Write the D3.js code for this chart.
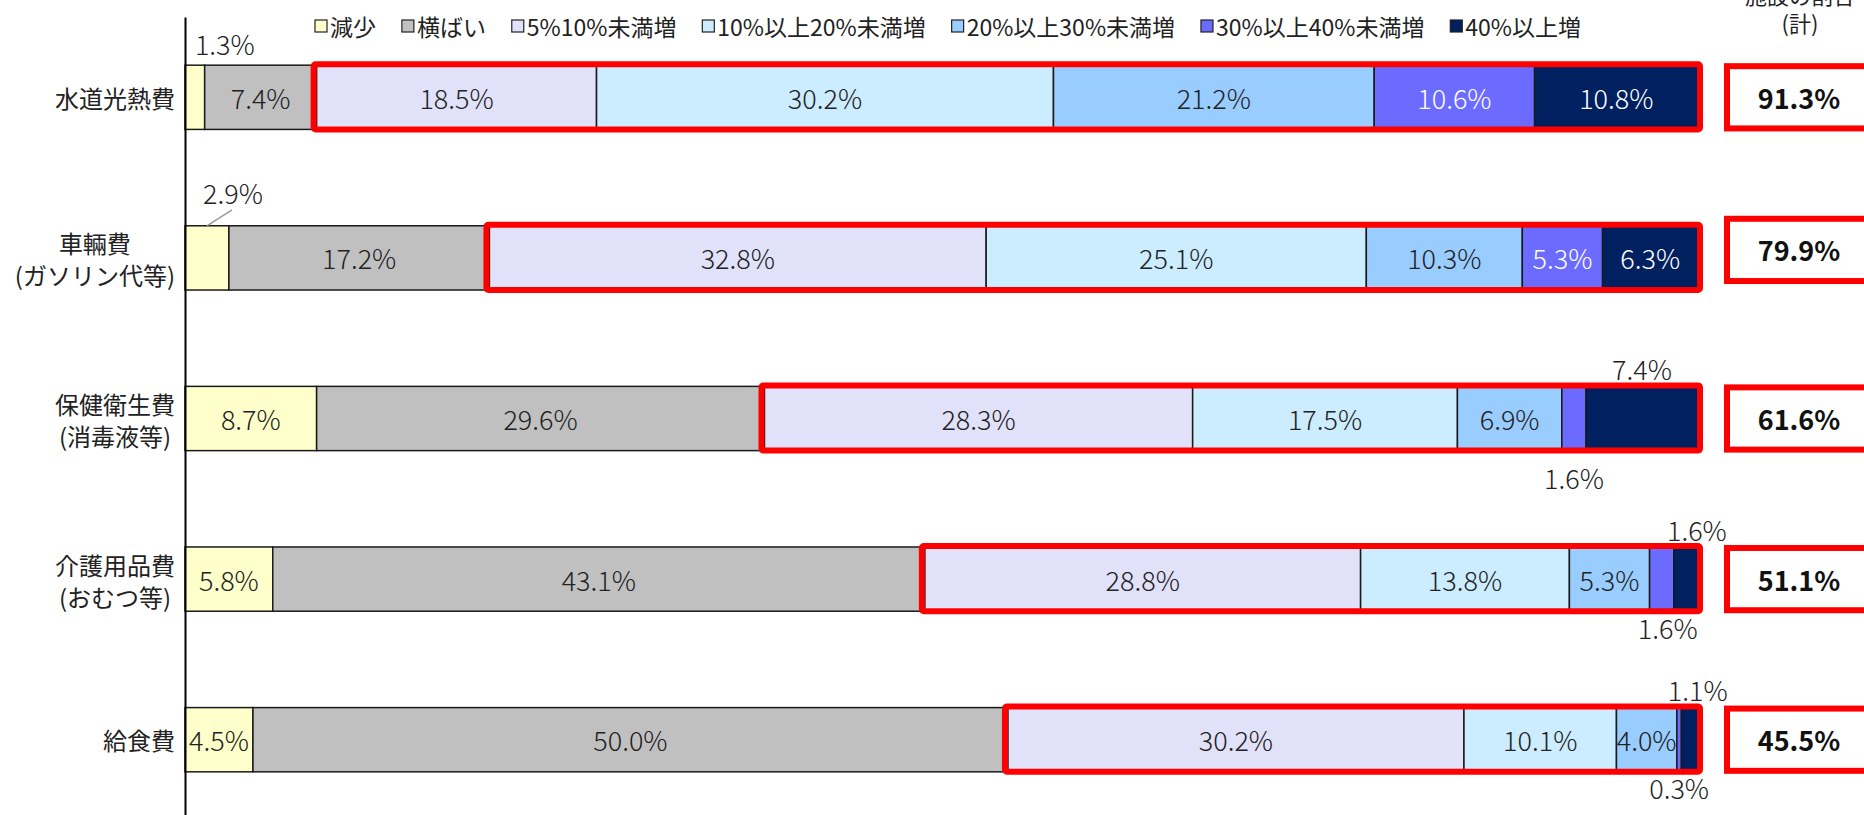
<!DOCTYPE html>
<html>
<head>
<meta charset="utf-8">
<script src="https://cdn.jsdelivr.net/npm/d3@7.9.0/dist/d3.min.js"></script>
<style>
  body { margin: 0; background: #fff; }
  svg { display: block; font-family: "Noto Sans CJK JP", "Noto Sans", sans-serif; }
</style>
</head>
<body>
<svg id="chart" width="1864" height="815"></svg>
<script>
// --- data ---
const categories = ['水道光熱費', '車輛費', '保健衛生費', '介護用品費', '給食費'];
const categorySub = ['', '(ガソリン代等)', '(消毒液等)', '(おむつ等)', ''];
const seriesNames = ['減少', '横ばい', '5%10%未満増', '10%以上20%未満増', '20%以上30%未満増', '30%以上40%未満増', '40%以上増'];

const decrease = [1.3, 2.9, 8.7, 5.8, 4.5];
const flat     = [7.4, 17.2, 29.6, 43.1, 50.0];
const up5to10  = [18.5, 32.8, 28.3, 28.8, 30.2];
const up10to20 = [30.2, 25.1, 17.5, 13.8, 10.1];
const up20to30 = [21.2, 10.3, 6.9, 5.3, 4.0];
const up30to40 = [10.6, 5.3, 1.6, 1.6, 0.3];
const up40plus = [10.8, 6.3, 7.4, 1.6, 1.1];
const increaseTotal = [91.3, 79.9, 61.6, 51.1, 45.5];

const seriesValues = [decrease, flat, up5to10, up10to20, up20to30, up30to40, up40plus];
const colors = ['#FFFFCC', '#C0C0C0', '#E1E1FA', '#CCECFF', '#99CCFF', '#6B6BFF', '#002060'];

// labels that sit outside their (too narrow) segment
const outsideLabels = [
  { row: 0, key: '減少', dx: 30, dy: -22 },
  { row: 1, key: '減少', dx: 26, dy: -33, leader: true },
  { row: 2, key: '40%以上増', dx: 0, dy: -18 },
  { row: 2, key: '30%以上40%未満増', dx: 0, dy: 27 },
  { row: 3, key: '40%以上増', dx: 11, dy: -17 },
  { row: 3, key: '30%以上40%未満増', dx: 6, dy: 16 },
  { row: 4, key: '40%以上増', dx: 8, dy: -18 },
  { row: 4, key: '30%以上40%未満増', dx: 0, dy: 16 }
];
// the second total box sits a little higher in the original
const totalBoxShift = [0, -8, 0, 0, 0];

// table for d3.stack
let rows = categories.map((c, i) => {
  let r = { category: c };
  seriesNames.forEach((s, j) => r[s] = seriesValues[j][i]);
  return r;
});

const svg = d3.select('#chart');
const margin = { left: 185, top: 17, bottom: -5 };
const height = 815;

let x = d3.scaleLinear().domain([0, 1]).range([margin.left, 1698]);
let y = d3.scaleBand().domain(categories)
  .range([margin.top, height - margin.bottom])
  .paddingInner(0.6).paddingOuter(0.3);

let stacked = d3.stack().keys(seriesNames).offset(d3.stackOffsetExpand)(rows);

// bars
let layers = svg.append('g').selectAll('g')
  .data(stacked)
  .join('g')
  .attr('fill', (d, i) => colors[i]);

layers.selectAll('rect')
  .data(d => d)
  .join('rect')
  .attr('x', d => x(d[0]))
  .attr('y', d => y(d.data.category))
  .attr('width', d => x(d[1]) - x(d[0]))
  .attr('height', y.bandwidth())
  .attr('stroke', '#1a1a1a')
  .attr('stroke-width', 1.5);

// red highlight around the "increase" part of each bar
let firstUp = stacked[2];
svg.append('g').selectAll('rect')
  .data(firstUp)
  .join('rect')
  .attr('x', d => x(d[0]) - 3)
  .attr('y', d => y(d.data.category) - 1)
  .attr('width', d => x(1) - x(d[0]) + 5)
  .attr('height', y.bandwidth() + 1)
  .attr('rx', 2)
  .attr('fill', 'none')
  .attr('stroke', '#FF0000')
  .attr('stroke-width', 6);

// value labels
function isOutside(row, key) {
  return outsideLabels.find(o => o.row === row && o.key === key);
}

let labelG = svg.append('g')
  .attr('font-size', 27)
  .attr('font-weight', 300)
  .attr('text-anchor', 'middle');

stacked.forEach((layer, si) => {
  layer.forEach((d, ri) => {
    let v = seriesValues[si][ri];
    let cx = (x(d[0]) + x(d[1])) / 2;
    let top = y(d.data.category);
    let o = isOutside(ri, layer.key);
    if (o) {
      let cy = o.dy < 0 ? top + o.dy : top + y.bandwidth() + o.dy;
      labelG.append('text')
        .attr('x', cx + o.dx)
        .attr('y', cy)
        .attr('dominant-baseline', 'central')
        .attr('fill', '#222')
        .text(v.toFixed(1) + '%');
      if (o.leader) {
        svg.append('line')
          .attr('x1', cx).attr('y1', top)
          .attr('x2', cx + o.dx - 1).attr('y2', cy + 17)
          .attr('stroke', '#999').attr('stroke-width', 1.5);
      }
    } else {
      labelG.append('text')
        .attr('x', cx)
        .attr('y', top + y.bandwidth() / 2)
        .attr('dominant-baseline', 'central')
        .attr('fill', si >= 5 ? '#fff' : '#222')
        .text(v.toFixed(1) + '%');
    }
  });
});

// axis (just the vertical line)
svg.append('g')
  .attr('transform', `translate(${margin.left},0)`)
  .call(d3.axisLeft(y).tickSize(0).tickFormat(''))
  .call(g => g.select('.domain').attr('stroke', '#000').attr('stroke-width', 2));

// category labels: lines centred on each other, block right-aligned
let catG = svg.append('g')
  .attr('font-size', 24)
  .attr('text-anchor', 'middle')
  .attr('fill', '#222');

const labelRight = 175;
categories.forEach((c, i) => {
  let cy = y(c) + y.bandwidth() / 2;
  let sub = categorySub[i];
  let lines = sub ? [c, sub] : [c];
  let texts = lines.map((t, k) => catG.append('text')
    .attr('y', sub ? cy + (k === 0 ? -15 : 17) : cy)
    .attr('dominant-baseline', 'central')
    .text(t));
  let w = d3.max(texts, t => t.node().getComputedTextLength());
  texts.forEach(t => t.attr('x', labelRight - w / 2));
});

// right-hand total boxes
let totalG = svg.append('g');
categories.forEach((c, i) => {
  let top = y(c) + totalBoxShift[i];
  totalG.append('rect')
    .attr('x', 1727)
    .attr('y', top + 1)
    .attr('width', 150)
    .attr('height', y.bandwidth() - 2)
    .attr('fill', '#fff')
    .attr('stroke', '#FF0000')
    .attr('stroke-width', 6);
  totalG.append('text')
    .attr('x', 1799)
    .attr('y', top + y.bandwidth() / 2)
    .attr('dominant-baseline', 'central')
    .attr('text-anchor', 'middle')
    .attr('font-size', 27)
    .attr('font-weight', 'bold')
    .attr('fill', '#111')
    .text(increaseTotal[i].toFixed(1) + '%');
});

// header above the totals (clipped at the top edge, as in the original)
svg.append('text')
  .attr('x', 1800).attr('y', -6)
  .attr('text-anchor', 'middle').attr('dominant-baseline', 'central')
  .attr('font-size', 22).attr('fill', '#222')
  .text('施設の割合');
svg.append('text')
  .attr('x', 1800).attr('y', 22)
  .attr('text-anchor', 'middle').attr('dominant-baseline', 'central')
  .attr('font-size', 22).attr('fill', '#222')
  .text('(計)');

// legend
let legend = svg.append('g').attr('font-size', 23).attr('fill', '#222');
let items = legend.selectAll('g')
  .data(seriesNames)
  .join('g');

items.append('rect')
  .attr('width', 12).attr('height', 12)
  .attr('y', 20)
  .attr('fill', (d, i) => colors[i])
  .attr('stroke', '#222').attr('stroke-width', 1.2);

items.append('text')
  .attr('x', 15)
  .attr('y', 26)
  .attr('dominant-baseline', 'central')
  .text(d => d);

let legendStart = 315, legendEnd = 1581;
let widths = items.nodes().map(n => n.getBBox().width);
let gap = (legendEnd - legendStart - d3.sum(widths)) / (widths.length - 1);
let pos = legendStart;
items.each(function (d, i) {
  d3.select(this).attr('transform', `translate(${pos},0)`);
  pos += widths[i] + gap;
});
</script>
</body>
</html>
